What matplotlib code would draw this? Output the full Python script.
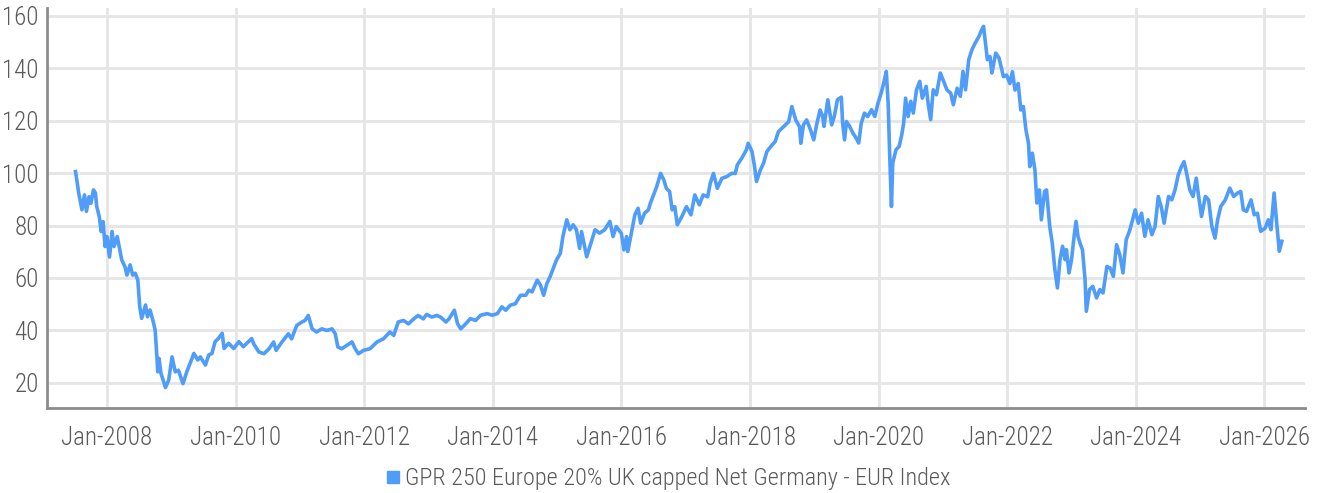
from datetime import datetime, timedelta

import matplotlib
matplotlib.use("Agg")
import matplotlib.pyplot as plt
import matplotlib.dates as mdates
from matplotlib import font_manager
from matplotlib.lines import Line2D

# datas em anos decimais e valores do índice
anos = [
    2007.51, 2007.53, 2007.56, 2007.58, 2007.61, 2007.65, 2007.68, 2007.72, 2007.75, 2007.79,
    2007.82, 2007.84, 2007.88, 2007.91, 2007.94, 2007.97, 2008.00, 2008.04, 2008.08, 2008.11,
    2008.16, 2008.20, 2008.23, 2008.28, 2008.31, 2008.36, 2008.40, 2008.44, 2008.48, 2008.51,
    2008.54, 2008.60, 2008.63, 2008.67, 2008.72, 2008.75, 2008.78, 2008.79, 2008.81, 2008.84,
    2008.91, 2008.96, 2009.01, 2009.06, 2009.11, 2009.18, 2009.24, 2009.31, 2009.35, 2009.41,
    2009.45, 2009.53, 2009.58, 2009.63, 2009.68, 2009.73, 2009.79, 2009.82, 2009.89, 2009.97,
    2010.05, 2010.12, 2010.25, 2010.28, 2010.36, 2010.44, 2010.52, 2010.59, 2010.63, 2010.72,
    2010.82, 2010.87, 2010.95, 2011.03, 2011.08, 2011.13, 2011.19, 2011.26, 2011.34, 2011.42,
    2011.50, 2011.55, 2011.59, 2011.65, 2011.73, 2011.81, 2011.86, 2011.91, 2011.99, 2012.09,
    2012.20, 2012.30, 2012.40, 2012.46, 2012.53, 2012.61, 2012.69, 2012.77, 2012.84, 2012.92,
    2012.97, 2013.05, 2013.13, 2013.19, 2013.27, 2013.32, 2013.40, 2013.45, 2013.50, 2013.58,
    2013.65, 2013.73, 2013.81, 2013.91, 2013.99, 2014.07, 2014.14, 2014.20, 2014.27, 2014.35,
    2014.43, 2014.51, 2014.56, 2014.61, 2014.69, 2014.74, 2014.79, 2014.84, 2014.89, 2014.94,
    2014.99, 2015.05, 2015.09, 2015.15, 2015.20, 2015.25, 2015.30, 2015.35, 2015.38, 2015.46,
    2015.54, 2015.59, 2015.66, 2015.74, 2015.82, 2015.87, 2015.92, 2016.00, 2016.04, 2016.08,
    2016.10, 2016.16, 2016.21, 2016.26, 2016.30, 2016.36, 2016.42, 2016.45, 2016.49, 2016.55,
    2016.61, 2016.66, 2016.70, 2016.75, 2016.79, 2016.83, 2016.87, 2016.94, 2017.01, 2017.08,
    2017.14, 2017.21, 2017.27, 2017.34, 2017.38, 2017.43, 2017.49, 2017.56, 2017.64, 2017.71,
    2017.77, 2017.80, 2017.87, 2017.94, 2017.97, 2018.03, 2018.07, 2018.10, 2018.16, 2018.21,
    2018.26, 2018.34, 2018.39, 2018.44, 2018.52, 2018.60, 2018.65, 2018.71, 2018.77, 2018.79,
    2018.83, 2018.88, 2018.94, 2018.99, 2019.04, 2019.09, 2019.13, 2019.15, 2019.21, 2019.27,
    2019.31, 2019.36, 2019.42, 2019.44, 2019.47, 2019.50, 2019.55, 2019.60, 2019.65, 2019.69,
    2019.73, 2019.78, 2019.83, 2019.89, 2019.94, 2019.99, 2020.04, 2020.08, 2020.12, 2020.15,
    2020.17, 2020.20, 2020.22, 2020.27, 2020.32, 2020.36, 2020.39, 2020.42, 2020.46, 2020.50,
    2020.54, 2020.59, 2020.64, 2020.68, 2020.74, 2020.77, 2020.81, 2020.85, 2020.90, 2020.96,
    2021.01, 2021.06, 2021.12, 2021.16, 2021.22, 2021.27, 2021.31, 2021.35, 2021.40, 2021.45,
    2021.50, 2021.56, 2021.59, 2021.63, 2021.66, 2021.69, 2021.73, 2021.76, 2021.82, 2021.87,
    2021.94, 2021.99, 2022.04, 2022.08, 2022.12, 2022.17, 2022.21, 2022.25, 2022.29, 2022.33,
    2022.35, 2022.39, 2022.43, 2022.46, 2022.50, 2022.53, 2022.58, 2022.61, 2022.66, 2022.70,
    2022.74, 2022.78, 2022.82, 2022.86, 2022.90, 2022.92, 2022.96, 2023.00, 2023.04, 2023.07,
    2023.10, 2023.14, 2023.17, 2023.21, 2023.23, 2023.28, 2023.33, 2023.39, 2023.44, 2023.49,
    2023.55, 2023.60, 2023.65, 2023.70, 2023.75, 2023.80, 2023.85, 2023.90, 2023.95, 2023.99,
    2024.04, 2024.09, 2024.14, 2024.19, 2024.25, 2024.30, 2024.35, 2024.40, 2024.44, 2024.51,
    2024.56, 2024.61, 2024.66, 2024.71, 2024.75, 2024.79, 2024.84, 2024.89, 2024.94, 2024.97,
    2025.02, 2025.08, 2025.13, 2025.18, 2025.23, 2025.27, 2025.32, 2025.39, 2025.46, 2025.52,
    2025.58, 2025.63, 2025.67, 2025.72, 2025.79, 2025.84, 2025.89, 2025.94, 2026.01, 2026.06,
    2026.10, 2026.15, 2026.19, 2026.23, 2026.27,
]

valores = [
    100.6, 97.5, 92.4, 90.0, 86.0, 91.7, 85.4, 91.0, 88.5, 93.6,
    92.4, 87.3, 83.4, 77.7, 81.5, 72.0, 75.8, 68.0, 77.7, 72.0,
    75.8, 70.7, 66.9, 64.3, 61.1, 65.0, 61.1, 61.8, 59.2, 49.0,
    44.6, 49.7, 45.2, 47.8, 43.3, 40.1, 28.7, 24.2, 29.3, 23.6,
    18.2, 21.0, 29.9, 24.2, 24.8, 19.7, 24.2, 28.7, 31.2, 28.7,
    29.9, 26.8, 30.6, 31.2, 35.7, 36.9, 38.9, 33.1, 35.1, 33.1,
    35.7, 33.8, 36.9, 34.9, 31.8, 31.1, 33.0, 35.6, 32.4, 35.6,
    38.7, 36.8, 41.9, 43.2, 43.8, 45.7, 40.6, 39.4, 40.6, 40.0,
    40.6, 38.7, 33.7, 33.0, 34.3, 35.6, 33.0, 31.1, 32.4, 33.0,
    35.6, 36.8, 39.4, 38.1, 43.2, 43.8, 42.5, 44.4, 45.7, 44.4,
    46.1, 45.1, 45.7, 45.0, 43.2, 44.5, 47.7, 42.6, 40.6, 42.6,
    44.5, 43.8, 45.8, 46.4, 45.8, 46.4, 49.0, 47.7, 49.6, 50.2,
    53.4, 53.4, 55.3, 54.7, 59.2, 57.3, 53.4, 57.9, 60.5, 63.7,
    66.9, 69.4, 75.8, 82.2, 78.4, 80.3, 78.4, 71.3, 77.7, 68.1,
    74.5, 78.4, 77.1, 78.4, 81.6, 75.8, 79.6, 77.0, 70.7, 75.8,
    70.1, 77.7, 84.1, 86.6, 80.9, 84.7, 86.0, 88.5, 91.0, 94.9,
    99.9, 97.4, 94.2, 93.0, 86.0, 87.2, 80.3, 83.4, 87.2, 84.1,
    91.7, 87.9, 91.7, 91.0, 96.1, 99.9, 94.2, 98.0, 98.7, 99.9,
    99.9, 103.1, 105.7, 108.8, 111.4, 108.2, 102.5, 96.8, 101.2, 103.8,
    108.2, 110.7, 112.0, 115.8, 117.7, 119.6, 125.4, 120.3, 117.7, 111.4,
    118.4, 120.3, 116.5, 112.7, 119.0, 124.1, 121.6, 117.8, 128.0, 118.4,
    121.6, 128.0, 129.0, 119.1, 112.7, 119.7, 117.8, 115.3, 113.4, 111.5,
    119.1, 122.9, 121.6, 124.2, 121.6, 126.7, 130.5, 134.4, 138.8, 126.1,
    108.9, 87.3, 103.8, 108.9, 110.2, 114.6, 119.1, 128.6, 121.6, 127.4,
    122.9, 131.8, 135.0, 128.6, 133.1, 126.7, 120.4, 131.8, 129.9, 138.2,
    135.0, 131.8, 130.5, 126.1, 132.4, 129.3, 138.8, 131.8, 143.3, 147.1,
    149.6, 152.2, 154.1, 156.0, 149.6, 143.3, 144.5, 138.2, 145.8, 144.0,
    136.8, 137.4, 134.2, 138.7, 131.7, 134.2, 124.1, 125.4, 116.5, 111.4,
    102.5, 107.6, 101.2, 88.6, 93.6, 82.2, 93.0, 93.6, 79.7, 73.3,
    63.2, 56.2, 67.0, 72.1, 67.0, 70.8, 61.9, 67.0, 75.9, 81.6,
    75.9, 72.7, 70.8, 59.4, 47.3, 55.6, 56.8, 52.4, 55.6, 54.3,
    64.4, 63.8, 60.6, 72.7, 68.9, 61.9, 74.6, 77.8, 82.2, 86.0,
    80.9, 84.7, 75.9, 82.2, 76.5, 79.7, 91.1, 86.6, 80.9, 91.1,
    89.8, 93.6, 99.3, 102.5, 104.4, 100.0, 93.6, 91.1, 98.1, 92.4,
    83.5, 91.1, 89.8, 79.7, 75.2, 82.2, 87.3, 89.8, 94.3, 91.1,
    92.4, 93.0, 86.0, 85.4, 89.8, 84.1, 84.7, 77.8, 79.0, 82.2,
    78.4, 92.4, 80.9, 70.2, 74.0,
]

nome_serie = "GPR 250 Europe 20% UK capped Net Germany - EUR Index"
y_ticks = [20, 40, 60, 80, 100, 120, 140, 160]

COR_LINHA = "#4f9cf9"
COR_TEXTO = "#5a5a5a"
COR_GRADE = "#e5e5e5"
COR_EIXO = "#8c8c8c"


def ano_para_data(a):
    ano = int(a)
    return datetime(ano, 1, 1) + timedelta(days=(a - ano) * 365.25)


def escolher_fonte(candidatas):
    for nome in candidatas:
        try:
            font_manager.findfont(font_manager.FontProperties(family=nome),
                                  fallback_to_default=False)
            return nome
        except ValueError:
            continue
    return "DejaVu Sans"


fonte = escolher_fonte(["Liberation Sans Narrow", "Roboto Condensed", "Roboto"])
plt.rcParams["font.family"] = [fonte, "DejaVu Sans"]
plt.rcParams["font.weight"] = "light"

datas = [ano_para_data(a) for a in anos]

fig = plt.figure(figsize=(13.19, 4.93), dpi=100)
ax = fig.add_axes([47 / 1319, 1 - 408 / 493, (1305 - 47) / 1319, 400 / 493])

ax.plot(datas, valores, color=COR_LINHA, linewidth=2.6, solid_joinstyle="round", zorder=3)

ax.set_ylim(10.4, 163.0)
ax.set_xlim(ano_para_data(2007.067), ano_para_data(2026.63))
ax.set_yticks(y_ticks)
ax.xaxis.set_major_locator(mdates.YearLocator(2))
ax.xaxis.set_major_formatter(mdates.DateFormatter("%b-%Y"))

ax.grid(True, color=COR_GRADE, linewidth=2.0, zorder=0)
ax.set_axisbelow(True)
for lado in ["top", "right"]:
    ax.spines[lado].set_visible(False)
for lado in ["left", "bottom"]:
    ax.spines[lado].set_color(COR_EIXO)
    ax.spines[lado].set_linewidth(2.0)

ax.tick_params(axis="both", length=0, labelsize=18, labelcolor=COR_TEXTO)
ax.tick_params(axis="x", pad=13)
ax.tick_params(axis="y", pad=6)

marcador = Line2D([], [], color=COR_LINHA, marker="s", markersize=8, linestyle="None")
fig.legend([marcador], [nome_serie], loc="center", bbox_to_anchor=(667 / 1319, 1 - 479 / 493),
           frameon=False, fontsize=17.5, labelcolor=COR_TEXTO, handletextpad=0.1,
           handlelength=0.8, borderpad=0)

fig.savefig("out.png", dpi=100)
